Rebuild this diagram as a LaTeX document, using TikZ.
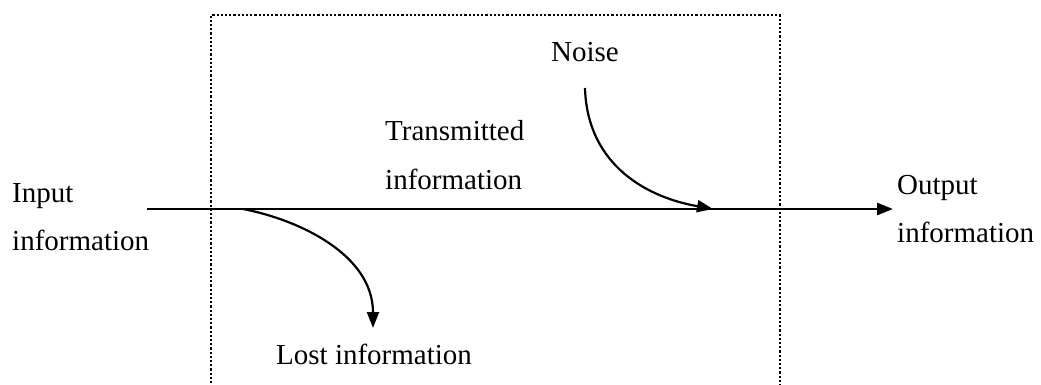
\documentclass[tikz,border=0pt]{standalone}
\usepackage{fontspec}
\setmainfont{Liberation Serif}
\usetikzlibrary{arrows.meta}
\begin{document}
\begin{tikzpicture}[x=1pt,y=-1pt,
  lbl/.style={inner sep=0pt,anchor=base west,align=left,font=\fontsize{29}{48}\selectfont},
  tip/.style={-{Triangle[length=16pt,width=12pt]}},
  mainline/.style={line width=2.8pt,tip},
  curve/.style={line width=2.2pt,tip},
  frame/.style={line width=2.2pt,dash pattern=on 2.2pt off 2pt}]
\useasboundingbox (0,0) rectangle (1041,385);
% frame open at bottom
\draw[frame] (211,400) -- (211,15) -- (780,15) -- (780,400);
\coordinate (in) at (147,209);
\coordinate (out) at (893,209);
\coordinate (ls) at (243,209);
\coordinate (le) at (373,328);
\coordinate (ns) at (585,88);
\coordinate (ne) at (713,209);
\draw[mainline] (in) -- (out);
\draw[curve] (ls) .. controls (300,220) and (373,255) .. (le);
\draw[curve] (ns) .. controls (587,160) and (640,196) .. (ne);
\node[lbl] (input) at (12,250) {Input\\information};
\node[lbl] (trans) at (385,189) {Transmitted\\information};
\node[lbl] (noise) at (551,62) {Noise};
\node[lbl] (output) at (897,242) {Output\\information};
\node[lbl] (lost) at (276,364) {Lost information};
\end{tikzpicture}
\end{document}
